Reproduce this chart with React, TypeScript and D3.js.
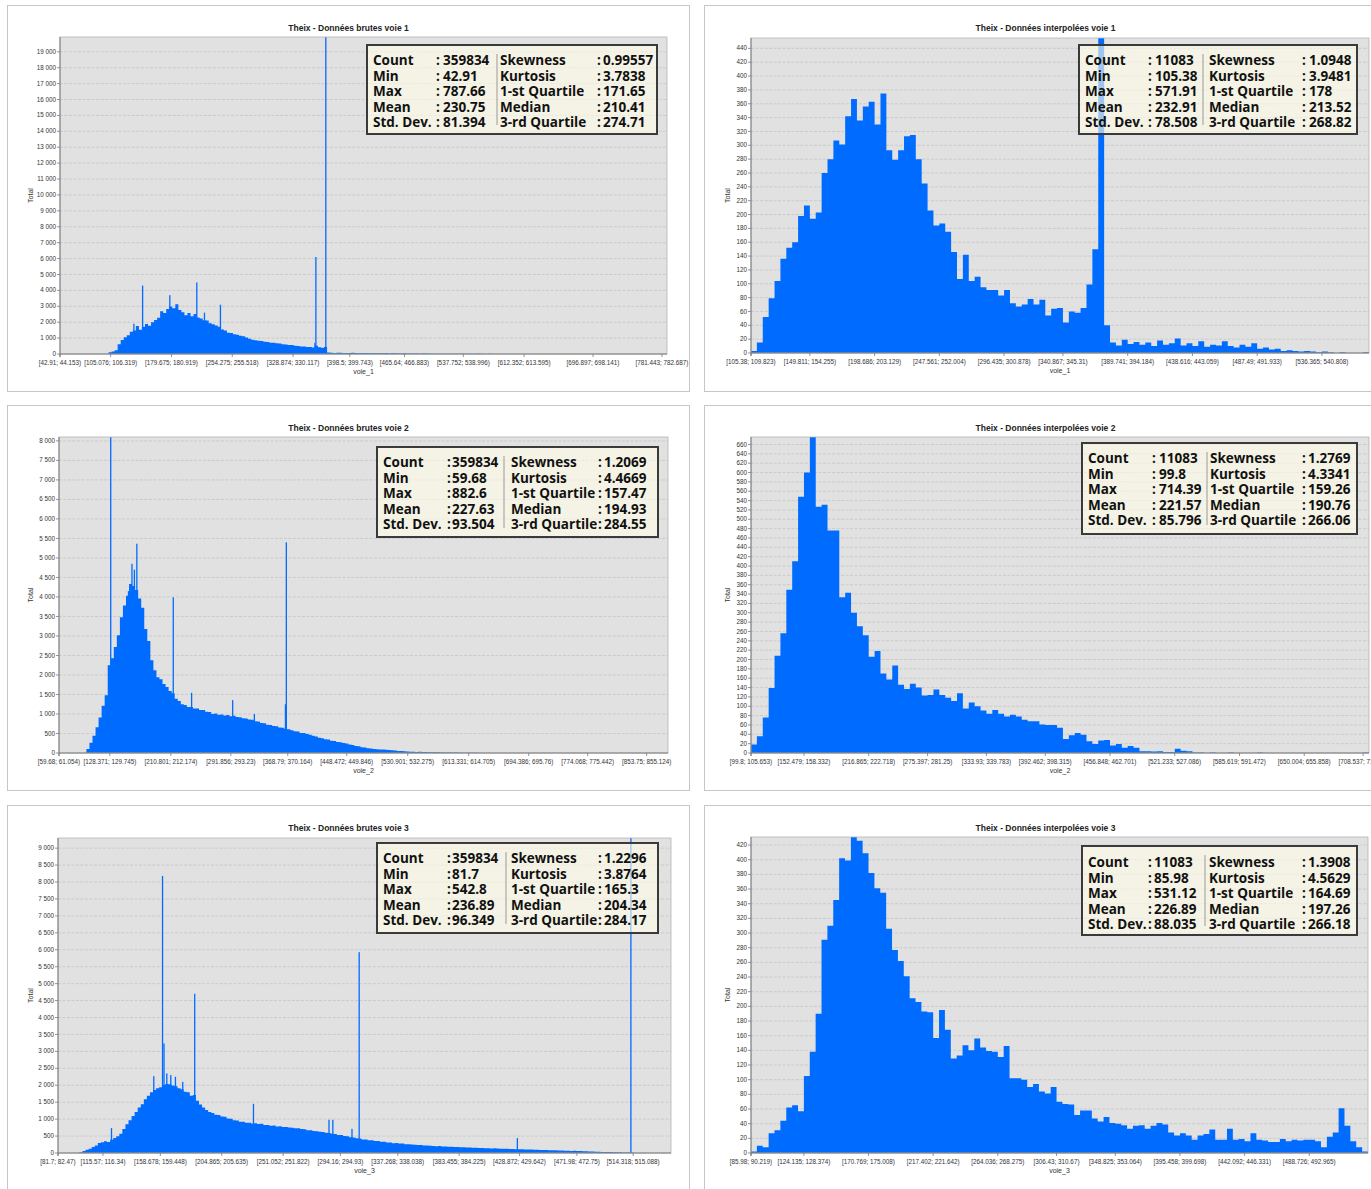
import React from "react";
import * as d3 from "d3";

// ---------------- DATA ----------------
const BLUE = "#006cff";

const statsLeftLabels = ["Count", "Min", "Max", "Mean", "Std. Dev."];
const statsRightLabels = ["Skewness", "Kurtosis", "1-st Quartile", "Median", "3-rd Quartile"];

// Raw voie 1 (200 bins over [min, max])
const rawVoie1Range = [42.91, 787.66];
const rawVoie1Counts = [
  0, 0, 0, 0, 0, 0, 0, 0, 0, 0, 0, 0, 0, 0, 0, 0,
  110, 160, 240, 620, 880, 1050, 1180, 1400, 1480, 1760,
  1520, 1720, 1880, 1780, 1990, 2130, 2280, 2690, 2580, 2830,
  2980, 2870, 3120, 2760, 2620, 2440, 2570, 2380, 2510, 2290,
  2230, 2120, 2110, 1930, 1870, 1790, 1720, 1540, 1470, 1330,
  1320, 1240, 1210, 1140, 1120, 1030, 960, 890, 870, 840,
  810, 770, 760, 710, 705, 670, 655, 610, 605, 570,
  560, 515, 505, 470, 465, 445, 440, 410, 520, 430,
  395, 440, 90, 80, 70, 85, 75, 60, 70, 65,
  80, 60, 55, 70, 50, 60, 45, 55, 50, 40,
  45, 60, 35, 40, 50, 30, 35, 40, 30, 25,
  35, 30, 20, 25, 30, 20, 15, 20, 10, 15,
  20, 10, 15, 10, 12, 8, 10, 15, 8, 10,
  6, 8, 10, 5, 6, 8, 4, 5, 3, 4,
  0, 0, 0, 0, 0, 0, 0, 0, 0, 0, 0, 0, 0, 0, 0, 0, 0, 0, 0, 0,
  0, 0, 0, 0, 0, 0, 0, 0, 0, 0, 0, 0, 0, 0, 0, 0, 0, 0, 0, 0,
  0, 0, 0, 0, 0, 0, 0, 0, 0, 0, 0, 0, 0, 0,
];
const rawVoie1Spikes = [
  [133.5, 1900], [144.2, 4300], [177.6, 3700], [210.7, 4500], [220.1, 2600],
  [239.7, 3100], [355.6, 700], [356.8, 6100], [369.0, 20500],
];
const rawVoie1XTicks = [
  "[42.91; 44.153)", "[105.076; 106.319)", "[179.675; 180.919)", "[254.275; 255.518)",
  "[328.874; 330.117)", "[398.5; 399.743)", "[465.64; 466.883)", "[537.752; 538.996)",
  "[612.352; 613.595)", "[696.897; 698.141)", "[781.443; 782.687)",
];
const rawVoie1StatsLeft = ["359834", "42.91", "787.66", "230.75", "81.394"];
const rawVoie1StatsRight = ["0.99557", "3.7838", "171.65", "210.41", "274.71"];

// Interpolated voie 1 (105 bins)
const interpVoie1Range = [105.38, 571.91];
const interpVoie1Counts = [
  3, 15, 52, 79, 104, 136, 152, 160, 198, 213,
  194, 203, 260, 280, 307, 301, 342, 367, 336, 356,
  363, 330, 375, 293, 279, 293, 313, 315, 280, 245,
  206, 184, 187, 175, 146, 107, 142, 104, 110, 95,
  91, 91, 83, 91, 72, 67, 70, 78, 70, 77,
  54, 64, 65, 44, 60, 58, 65, 99, 150, 600,
  40, 15, 11, 19, 13, 16, 12, 15, 10, 18,
  12, 14, 21, 11, 14, 10, 17, 9, 12, 11,
  17, 10, 8, 12, 9, 14, 6, 8, 5, 6,
  3, 4, 3, 2, 3, 2, 1, 2, 1, 0,
  1, 0, 0, 0, 1,
];
const interpVoie1XTicks = [
  "[105.38; 109.823)", "[149.811; 154.255)", "[198.686; 203.129)", "[247.561; 252.004)",
  "[296.435; 300.878)", "[340.867; 345.31)", "[389.741; 394.184)", "[438.616; 443.059)",
  "[487.49; 491.933)", "[536.365; 540.808)",
];
const interpVoie1StatsLeft = ["11083", "105.38", "571.91", "232.91", "78.508"];
const interpVoie1StatsRight = ["1.0948", "3.9481", "178", "213.52", "268.82"];

// Raw voie 2 (200 bins)
const rawVoie2Range = [59.68, 882.6];
const rawVoie2Counts = [
  0, 0, 0, 0, 0, 0, 0, 0, 0,
  100, 260, 440, 660, 910, 1210, 1480, 2250, 2430, 2720,
  3020, 3480, 3780, 4030, 4330, 4280, 4180, 3960, 3720, 3180,
  2870, 2380, 2120, 1940, 1890, 1770, 1690, 1590, 1530, 1390,
  1330, 1250, 1230, 1180, 1180, 1140, 1140, 1100, 1100, 1060,
  1050, 1000, 1010, 980, 990, 960, 975, 940, 955, 920,
  915, 890, 885, 860, 855, 815, 805, 770, 760, 725,
  720, 695, 685, 655, 650, 615, 610, 585, 560, 550,
  515, 510, 485, 470, 440, 420, 390, 380, 350, 345,
  315, 310, 285, 278, 255, 245, 218, 208, 182, 172,
  148, 138, 122, 115, 100, 99, 90, 89, 82, 80,
  68, 64, 54, 50, 42, 41, 35, 34, 28, 29,
  25, 25, 21, 21, 18, 18, 16, 15, 13, 12,
  11, 10, 9, 8, 7, 7, 5, 5, 4, 3,
  3, 2, 2, 1, 1, 1, 0, 1, 0, 0,
  0, 0, 0, 0, 0, 0, 0, 0, 0, 0, 0, 0, 0, 0, 0, 0, 0, 0, 0, 0,
  0, 0, 0, 0, 0, 0, 0, 0, 0, 0, 0, 0, 0, 0, 0, 0, 0, 0, 0, 0,
  0, 0, 0, 0, 0, 0, 0, 0, 0, 0, 0,
];
const rawVoie2Spikes = [
  [129.5, 8400], [153.5, 4150], [158.2, 4850], [161.5, 4700], [164.8, 5365],
  [214.0, 3990], [238.8, 1545], [294.3, 1356], [323.6, 1000], [365.6, 1250], [366.8, 5400],
];
const rawVoie2XTicks = [
  "[59.68; 61.054)", "[128.371; 129.745)", "[210.801; 212.174)", "[291.856; 293.23)",
  "[368.79; 370.164)", "[448.472; 449.846)", "[530.901; 532.275)", "[613.331; 614.705)",
  "[694.386; 695.76)", "[774.068; 775.442)", "[853.75; 855.124)",
];
const rawVoie2StatsLeft = ["359834", "59.68", "882.6", "227.63", "93.504"];
const rawVoie2StatsRight = ["1.2069", "4.4669", "157.47", "194.93", "284.55"];

// Interpolated voie 2 (105 bins)
const interpVoie2Range = [99.8, 714.39];
const interpVoie2Counts = [
  18, 36, 76, 139, 208, 256, 349, 410, 548, 600,
  676, 527, 531, 476, 476, 333, 343, 300, 271, 252,
  206, 218, 170, 157, 187, 146, 137, 148, 140, 123,
  124, 136, 124, 118, 111, 128, 95, 108, 100, 91,
  84, 92, 84, 78, 82, 78, 71, 68, 68, 61,
  60, 60, 54, 30, 38, 43, 39, 25, 19, 27,
  28, 16, 19, 11, 15, 11, 4, 4, 3, 4,
  2, 2, 9, 5, 4, 1, 1, 0, 1, 0,
  0, 1, 0, 0, 0, 0, 1, 0, 0, 0,
  0, 0, 0, 0, 0, 0, 0, 0, 0, 0,
  0, 0, 0, 0, 1,
];
const interpVoie2XTicks = [
  "[99.8; 105.653)", "[152.479; 158.332)", "[216.865; 222.718)", "[275.397; 281.25)",
  "[333.93; 339.783)", "[392.462; 398.315)", "[456.848; 462.701)", "[521.233; 527.086)",
  "[585.619; 591.472)", "[650.004; 655.858)", "[708.537; 714.39)",
];
const interpVoie2StatsLeft = ["11083", "99.8", "714.39", "221.57", "85.796"];
const interpVoie2StatsRight = ["1.2769", "4.3341", "159.26", "190.76", "266.06"];

// Raw voie 3 (200 bins)
const rawVoie3Range = [81.7, 542.8];
const rawVoie3Counts = [
  0, 0, 0, 0, 0, 0, 0,
  20, 60, 95, 125, 175, 225, 295, 315, 345, 325,
  390, 445, 495, 570, 710, 850, 970, 1090, 1210, 1340,
  1440, 1590, 1690, 1790, 1860, 1910, 1940, 2010, 2040, 2030,
  1990, 1970, 1910, 1880, 1810, 1790, 1690, 1710, 1540, 1430,
  1340, 1270, 1210, 1180, 1130, 1120, 1080, 1070, 1020, 1010,
  970, 960, 920, 920, 890, 895, 870, 880, 855, 860,
  830, 825, 805, 810, 785, 790, 765, 770, 750, 745,
  730, 730, 705, 700, 675, 670, 650, 645, 625, 620,
  595, 590, 565, 560, 535, 530, 500, 495, 465, 460,
  435, 425, 395, 400, 375, 380, 355, 355, 335, 330,
  310, 310, 290, 292, 280, 278, 262, 260, 250, 246,
  235, 234, 222, 222, 212, 210, 200, 203, 192, 195,
  185, 187, 176, 178, 168, 170, 160, 162, 152, 155,
  147, 148, 140, 143, 136, 138, 130, 128, 124, 126,
  118, 120, 112, 114, 108, 106, 102, 104, 96, 98,
  90, 92, 86, 84, 79, 80, 74, 72, 68, 70,
  62, 63, 57, 56, 51, 50, 46, 44, 40, 38,
  33, 32, 28, 26, 23, 21, 19, 17, 14, 13,
  8, 3, 2, 2, 1, 1, 1, 1, 0, 1,
  0, 0, 0,
];
const rawVoie3Spikes = [
  [121.9, 735], [153.7, 2270], [160.3, 8180], [161.4, 3234], [163.5, 2350],
  [166.5, 2300], [170.0, 2250], [175.5, 2100], [184.5, 4700], [228.7, 1450],
  [285.5, 980], [288.4, 980], [302.8, 715], [308.2, 5930], [427.2, 440], [512.6, 9600],
];
const rawVoie3XTicks = [
  "[81.7; 82.47)", "[115.57; 116.34)", "[158.678; 159.448)", "[204.865; 205.635)",
  "[251.052; 251.822)", "[294.16; 294.93)", "[337.268; 338.038)", "[383.455; 384.225)",
  "[428.872; 429.642)", "[471.98; 472.75)", "[514.318; 515.088)",
];
const rawVoie3StatsLeft = ["359834", "81.7", "542.8", "236.89", "96.349"];
const rawVoie3StatsRight = ["1.2296", "3.8764", "165.3", "204.34", "284.17"];

// Interpolated voie 3 (105 bins)
const interpVoie3Range = [85.98, 531.12];
const interpVoie3Counts = [
  2, 10, 8, 27, 31, 44, 62, 65, 57, 105,
  138, 190, 291, 310, 345, 402, 399, 431, 426, 409,
  382, 361, 355, 306, 277, 262, 241, 211, 206, 193,
  192, 157, 195, 168, 129, 133, 147, 140, 156, 144,
  139, 138, 131, 146, 102, 102, 100, 90, 94, 84,
  81, 90, 70, 67, 66, 52, 58, 58, 47, 43,
  49, 41, 40, 38, 33, 37, 38, 33, 37, 41,
  39, 28, 24, 27, 24, 18, 24, 26, 32, 18,
  18, 33, 18, 19, 16, 27, 18, 17, 15, 15,
  19, 16, 18, 17, 18, 18, 16, 8, 22, 28,
  61, 37, 16, 8, 2,
];
const interpVoie3XTicks = [
  "[85.98; 90.219)", "[124.135; 128.374)", "[170.769; 175.008)", "[217.402; 221.642)",
  "[264.036; 268.275)", "[306.43; 310.67)", "[348.825; 353.064)", "[395.458; 399.698)",
  "[442.092; 446.331)", "[488.726; 492.965)",
];
const interpVoie3StatsLeft = ["11083", "85.98", "531.12", "226.89", "88.035"];
const interpVoie3StatsRight = ["1.3908", "4.5629", "164.69", "197.26", "266.18"];

// ---------------- CONFIG ----------------
const charts = [
  { title: "Theix - Données brutes voie 1", xLabel: "voie_1", range: rawVoie1Range, counts: rawVoie1Counts, spikes: rawVoie1Spikes, xTicks: rawVoie1XTicks, yMax: 19930, yStep: 1000, sl: rawVoie1StatsLeft, sr: rawVoie1StatsRight },
  { title: "Theix - Données interpolées voie 1", xLabel: "voie_1", range: interpVoie1Range, counts: interpVoie1Counts, spikes: [], xTicks: interpVoie1XTicks, yMax: 455, yStep: 20, sl: interpVoie1StatsLeft, sr: interpVoie1StatsRight },
  { title: "Theix - Données brutes voie 2", xLabel: "voie_2", range: rawVoie2Range, counts: rawVoie2Counts, spikes: rawVoie2Spikes, xTicks: rawVoie2XTicks, yMax: 8100, yStep: 500, sl: rawVoie2StatsLeft, sr: rawVoie2StatsRight },
  { title: "Theix - Données interpolées voie 2", xLabel: "voie_2", range: interpVoie2Range, counts: interpVoie2Counts, spikes: [], xTicks: interpVoie2XTicks, yMax: 676, yStep: 20, sl: interpVoie2StatsLeft, sr: interpVoie2StatsRight },
  { title: "Theix - Données brutes voie 3", xLabel: "voie_3", range: rawVoie3Range, counts: rawVoie3Counts, spikes: rawVoie3Spikes, xTicks: rawVoie3XTicks, yMax: 9300, yStep: 500, sl: rawVoie3StatsLeft, sr: rawVoie3StatsRight },
  { title: "Theix - Données interpolées voie 3", xLabel: "voie_3", range: interpVoie3Range, counts: interpVoie3Counts, spikes: [], xTicks: interpVoie3XTicks, yMax: 431, yStep: 20, sl: interpVoie3StatsLeft, sr: interpVoie3StatsRight },
];

const LAYOUT = [
  { frame: [7.5, 5.5, 682, 386], plot: { l: 60, t: 37, r: 667, b: 354 }, totalX: 33,
    box: { l: 367, t: 45, r: 657, b: 134, c1: 436, v1: 443, sep: 497, l2: 500, c2: 597, v2: 603, row0: 65 } },
  { frame: [704.5, 5.5, 682, 386], plot: { l: 751, t: 38, r: 1369, b: 353 }, totalX: 730,
    box: { l: 1079, t: 45, r: 1357, b: 134, c1: 1148, v1: 1155, sep: 1203, l2: 1209, c2: 1302, v2: 1309, row0: 65 } },
  { frame: [7.5, 405.5, 682, 385], plot: { l: 59, t: 437, r: 668, b: 753 }, totalX: 33,
    box: { l: 377, t: 447, r: 658, b: 537, c1: 447, v1: 452, sep: 504, l2: 511, c2: 598, v2: 604, row0: 467 } },
  { frame: [704.5, 405.5, 682, 385], plot: { l: 751, t: 437, r: 1369, b: 753 }, totalX: 730,
    box: { l: 1082, t: 443, r: 1357, b: 534, c1: 1152, v1: 1159, sep: 1207, l2: 1210, c2: 1302, v2: 1308, row0: 463 } },
  { frame: [7.5, 805.5, 682, 400], plot: { l: 58, t: 838, r: 671, b: 1153 }, totalX: 33,
    box: { l: 377, t: 843, r: 658, b: 933, c1: 447, v1: 452, sep: 506, l2: 511, c2: 598, v2: 604, row0: 863 } },
  { frame: [704.5, 805.5, 682, 400], plot: { l: 751, t: 837, r: 1368, b: 1153 }, totalX: 730,
    box: { l: 1082, t: 846, r: 1357, b: 935, c1: 1148, v1: 1154, sep: 1205, l2: 1209, c2: 1302, v2: 1308, row0: 867 } },
];

const fmtY = d3.formatLocale({ decimal: ".", thousands: "\u00a0", grouping: [3], currency: ["", ""] }).format(",");
const AXIS_FONT = "'Liberation Sans', Arial, sans-serif";
const BOX_FONT = "'Open Sans', 'Noto Sans', sans-serif";

function Panel({ cfg, lay, idx }: any) {
  const p = lay.plot;
  const x = d3.scaleLinear().domain(cfg.range).range([p.l, p.r]);
  const y = d3.scaleLinear().domain([0, cfg.yMax]).range([p.b, p.t]);
  const n = cfg.counts.length;
  const w = (cfg.range[1] - cfg.range[0]) / n;
  const yTicks = d3.range(0, cfg.yMax + 1e-9, cfg.yStep);
  const clipId = `plotclip${idx}`;
  const [fx, fy, fw, fh] = lay.frame;
  const b = lay.box;
  const rowH = 15.5;

  // step outline of the histogram built through d3.line
  const pts: [number, number][] = [[x(cfg.range[0]), y(0)]];
  cfg.counts.forEach((c: number, i: number) => {
    pts.push([x(cfg.range[0] + i * w), y(c)]);
    pts.push([x(cfg.range[0] + (i + 1) * w), y(c)]);
  });
  pts.push([x(cfg.range[1]), y(0)]);
  const histPath = (d3.line() as any)(pts) + "Z";

  return (
    <g>
      <rect x={fx} y={fy} width={fw} height={fh} fill="#fff" stroke="#c6c6c6" strokeWidth={1} />
      <text x={fx + fw / 2} y={fy + 25.5} textAnchor="middle" fontFamily={AXIS_FONT} fontWeight="bold" fontSize={8.5} fill="#222">{cfg.title}</text>
      <defs>
        <clipPath id={clipId}>
          <rect x={p.l} y={p.t} width={p.r - p.l} height={p.b - p.t} />
        </clipPath>
      </defs>
      <rect x={p.l} y={p.t} width={p.r - p.l} height={p.b - p.t} fill="#e1e1e1" />
      {yTicks.map((t: number) => (
        t > 0 ? <line key={"g" + t} x1={p.l} x2={p.r} y1={y(t)} y2={y(t)} stroke="#c2c2c2" strokeWidth={0.7} strokeDasharray="3,1.5" /> : null
      ))}
      <g clipPath={`url(#${clipId})`}>
        <path d={histPath} fill={BLUE} />
        {cfg.spikes.map((s: number[], i: number) => (
          <rect key={"s" + i} x={x(s[0]) - 0.6} y={y(s[1])} width={1.3} height={p.b - y(s[1])} fill={BLUE} />
        ))}
      </g>
      <rect x={p.l} y={p.t} width={p.r - p.l} height={p.b - p.t} fill="none" stroke="#b4b4b4" strokeWidth={0.8} />
      <line x1={p.l} x2={p.l} y1={p.t} y2={p.b + 3} stroke="#7a7a7a" strokeWidth={1} />
      <line x1={p.l} x2={p.r} y1={p.b} y2={p.b} stroke="#7a7a7a" strokeWidth={1} />
      {yTicks.map((t: number) => (
        <g key={"yt" + t}>
          <line x1={p.l - 3} x2={p.l} y1={y(t)} y2={y(t)} stroke="#7a7a7a" strokeWidth={0.8} />
          <text x={p.l - 4} y={y(t)} dy="0.33em" textAnchor="end" fontFamily={AXIS_FONT} fontSize={6.3} fill="#333">{fmtY(t)}</text>
        </g>
      ))}
      {cfg.xTicks.map((lab: string) => {
        const v = parseFloat(lab.slice(1));
        const xp = x(v);
        return (
          <g key={"xt" + lab}>
            <line x1={xp} x2={xp} y1={p.b} y2={p.b + 3} stroke="#7a7a7a" strokeWidth={0.8} />
            <text x={xp} y={p.b + 10.5} textAnchor="middle" fontFamily={AXIS_FONT} fontSize={6.3} fill="#333">{lab}</text>
          </g>
        );
      })}
      <text x={(p.l + p.r) / 2} y={p.b + 19.5} textAnchor="middle" fontFamily={AXIS_FONT} fontSize={7} fill="#333">{cfg.xLabel}</text>
      <text transform={`translate(${lay.totalX},${(p.t + p.b) / 2}) rotate(-90)`} textAnchor="middle" fontFamily={AXIS_FONT} fontSize={7} fill="#333">Total</text>
      <g>
        <rect x={b.l} y={b.t} width={b.r - b.l} height={b.b - b.t} fill="rgb(255,253,230)" fillOpacity={0.62} stroke="#3a3a3a" strokeWidth={2} />
        <line x1={b.sep} x2={b.sep} y1={b.t + 9} y2={b.b - 9} stroke="#9a9a9a" strokeWidth={1} />
        {statsLeftLabels.map((lab, i) => (
          <g key={"st" + i} fontFamily={BOX_FONT} fontWeight="bold" fontSize={13.5} fill="#111">
            <text x={b.l + 6} y={b.row0 + i * rowH}>{lab}</text>
            <text x={b.c1} y={b.row0 + i * rowH}>:</text>
            <text x={b.v1} y={b.row0 + i * rowH}>{cfg.sl[i]}</text>
            <text x={b.l2} y={b.row0 + i * rowH}>{statsRightLabels[i]}</text>
            <text x={b.c2} y={b.row0 + i * rowH}>:</text>
            <text x={b.v2} y={b.row0 + i * rowH}>{cfg.sr[i]}</text>
          </g>
        ))}
      </g>
    </g>
  );
}

export default function App() {
  return (
    <svg width={1371} height={1189} style={{ position: "absolute", left: 0, top: 0, background: "#fff" }}>
      {charts.map((c, i) => (
        <Panel key={i} cfg={c} lay={LAYOUT[i]} idx={i} />
      ))}
    </svg>
  );
}
